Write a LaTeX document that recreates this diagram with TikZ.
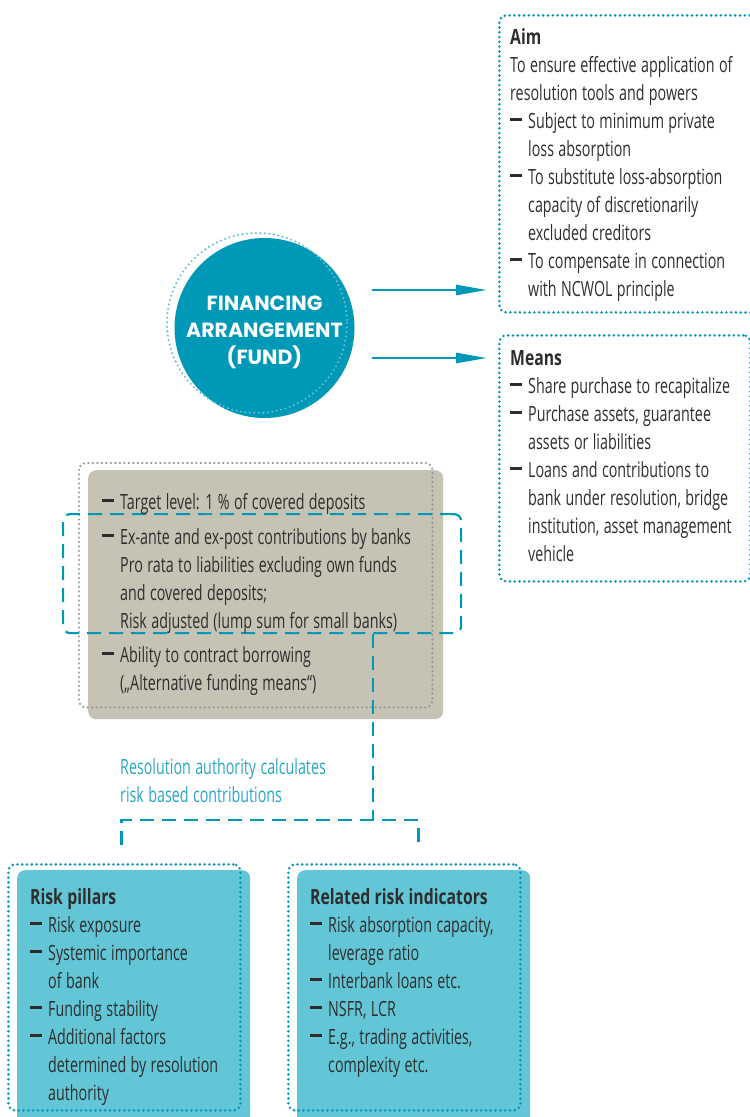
\documentclass[tikz,border=0pt]{standalone}
\usepackage{fontspec}
\setmainfont{Open Sans}[FakeStretch=0.68, BoldFeatures={FakeStretch=0.75}]
\newfontfamily\fundfont{Poppins}
\usetikzlibrary{positioning, arrows.meta}

\definecolor{fundteal}{RGB}{0,152,183}
\definecolor{dotteal}{RGB}{0,150,185}
\definecolor{ringteal}{RGB}{95,192,212}
\definecolor{labelteal}{RGB}{40,166,194}
\definecolor{riskfill}{RGB}{99,198,214}
\definecolor{depfill}{RGB}{198,195,180}
\definecolor{depdots}{RGB}{150,150,150}
\definecolor{bodytext}{RGB}{45,45,45}

% body font with tighter word space
\newcommand{\bodyfont}{\fontsize{21}{28}\selectfont\spaceskip=4.4pt plus 1pt minus 1pt\relax}
% one line of text, a dashed item, and its follow-on lines
\newcommand{\tline}{\par\noindent}
\newcommand{\bul}{\par\noindent\makebox[18pt][l]{\rule[7.5pt]{12pt}{2.6pt}}}
\newcommand{\cnt}{\par\noindent\hspace*{18pt}}

\begin{document}
\begin{tikzpicture}[x=1pt, y=-1pt,
	txt/.style={anchor=north west, inner sep=0pt, align=flush left, text=bodytext, font=\bodyfont},
	fund/.style={circle, fill=fundteal, minimum size=180pt, inner sep=0pt},
	fundtext/.style={text=white, inner sep=0pt, align=center, font=\fundfont\bfseries\fontsize{20.5}{27}\selectfont},
	dotframe/.style={draw=dotteal, line width=2.8pt, dash pattern=on 0pt off 4.8pt, line cap=round, rounded corners=7pt, anchor=north west, inner sep=0pt},
	panel/.style={rounded corners=8pt, anchor=north west, inner sep=0pt},
	dashline/.style={draw=fundteal, line width=2.2pt, dash pattern=on 14pt off 8pt},
	fundarrow/.style={-{Triangle[length=31pt, width=10pt]}, draw=fundteal, fill=fundteal, line width=2.6pt, shorten >=11pt}]
	\useasboundingbox (0,0) rectangle (750,1117);
	\clip (0,0) rectangle (750,1117);

	% the fund
	\node[fund] (fund) at (264.5,328) {};
	\draw[ringteal, line width=2.3pt, dash pattern=on 0pt off 4.5pt, line cap=round] ([shift={(-7.5,-5)}]fund.center) circle (90);
	\node[fundtext] (fundlabel) at ([yshift=-4pt]fund.center) {FINANCING\\ARRANGEMENT\\(FUND)};

	% aim and means
	\node[dotframe, minimum width=262pt, minimum height=297pt] (aimframe) at (498,14) {};
	\node[txt, text width=240pt] (aim) at ([shift={(12,14)}]aimframe.north west) {%
		{\bfseries Aim}
		\tline To ensure effective application of
		\tline resolution tools and powers
		\bul Subject to minimum private
		\cnt loss absorption
		\bul To substitute loss-absorption
		\cnt capacity of discretionarily
		\cnt excluded creditors
		\bul To compensate in connection
		\cnt with NCWOL principle};

	\node[dotframe, minimum width=251pt, minimum height=246pt] (meansframe) at (498,334) {};
	\node[txt, text width=240pt] (means) at ([shift={(12,16)}]meansframe.north west) {%
		{\bfseries Means}
		\bul Share purchase to recapitalize
		\bul Purchase assets, guarantee
		\cnt assets or liabilities
		\bul Loans and contributions to
		\cnt bank under resolution, bridge
		\cnt institution, asset management
		\cnt vehicle};

	\draw[fundarrow] ([shift={(17,-38)}]fund.east) coordinate (aimout) -- (aimout -| aimframe.west);
	\draw[fundarrow] ([shift={(17,30)}]fund.east) coordinate (meansout) -- (meansout -| meansframe.west);

	% deposits box
	\node[panel, fill=depfill, minimum width=355pt, minimum height=249pt] (depbox) at (88,470) {};
	\draw[depdots, line width=2.4pt, dash pattern=on 0pt off 4.5pt, line cap=round, rounded corners=7pt]
		([shift={(-9,-7)}]depbox.north west) rectangle ([shift={(-11,-12)}]depbox.south east);
	\node[dashline, rounded corners=7pt, anchor=north west, inner sep=0pt, minimum width=398pt, minimum height=119pt] (contrib) at ([shift={(-26,43)}]depbox.north west) {};
	\node[txt, text width=330pt] (deposits) at ([shift={(14,11)}]depbox.north west) {%
		\bul Target level: 1 \% of covered deposits
		\par\vspace{7pt}
		\bul Ex-ante and ex-post contributions by banks
		\cnt Pro rata to liabilities excluding own funds
		\cnt and covered deposits;
		\cnt Risk adjusted (lump sum for small banks)
		\par\vspace{6pt}
		\bul Ability to contract borrowing
		\cnt („Alternative funding means“)};

	% risk boxes
	\node[panel, fill=riskfill, minimum width=233pt, minimum height=262pt] (pillarsbox) at (17,870) {};
	\node[dotframe, minimum width=232pt, minimum height=246pt] (pillarsframe) at ([shift={(-10,-7)}]pillarsbox.north west) {};
	\node[txt, text width=215pt] (pillars) at ([shift={(13,18)}]pillarsbox.north west) {%
		{\bfseries Risk pillars}
		\bul Risk exposure
		\bul Systemic importance
		\cnt of bank
		\bul Funding stability
		\bul Additional factors
		\cnt determined by resolution
		\cnt authority};

	\node[panel, fill=riskfill, minimum width=233pt, minimum height=262pt] (indicatorsbox) at (297,870) {};
	\node[dotframe, minimum width=232pt, minimum height=246pt] (indicatorsframe) at ([shift={(-10,-7)}]indicatorsbox.north west) {};
	\node[txt, text width=215pt] (indicators) at ([shift={(13,18)}]indicatorsbox.north west) {%
		{\bfseries Related risk indicators}
		\bul Risk absorption capacity,
		\cnt leverage ratio
		\bul Interbank loans etc.
		\bul NSFR, LCR
		\bul E.g., trading activities,
		\cnt complexity etc.};

	% calculation
	\node[txt, text=labelteal, text width=250pt] (calc) at (120,758) {%
		Resolution authority calculates
		\tline risk based contributions};
	\coordinate (fork) at ([xshift=111]contrib.south |- 0,820);
	\coordinate (legL) at ([shift={(-3,-18)}]pillarsframe.north);
	\coordinate (legR) at ([shift={(14,-18)}]indicatorsframe.north);
	\draw[dashline] ([xshift=111]contrib.south) -- (fork);
	\draw[dashline] (legL) -- (legL |- fork) -- (legR |- fork) -- (legR);
\end{tikzpicture}
\end{document}
